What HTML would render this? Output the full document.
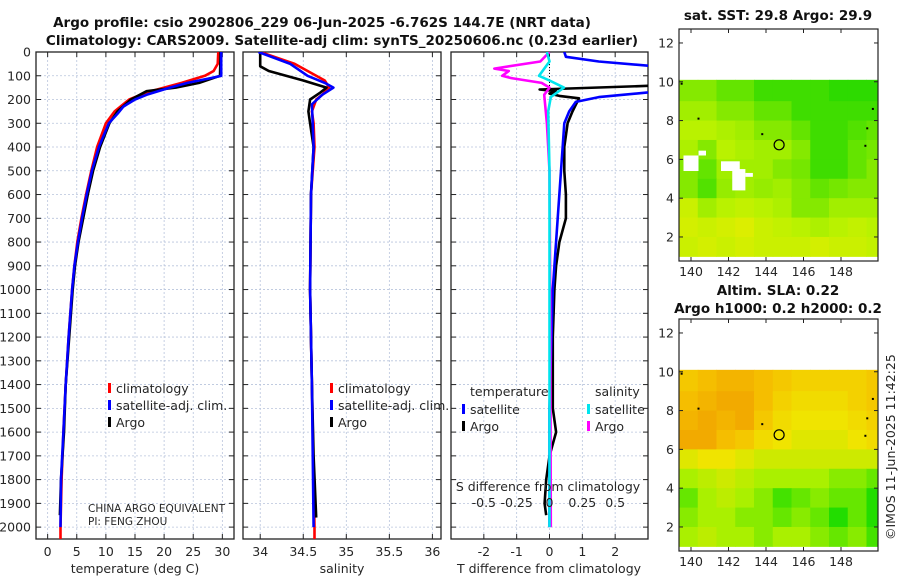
<!DOCTYPE html>
<html><head><meta charset="utf-8">
<style>
body{margin:0;background:#fff;}
svg{display:block;font-family:"DejaVu Sans","Liberation Sans",sans-serif;}
.t{font-weight:bold;font-size:13.5px;fill:#111;}
.k{font-size:12.5px;fill:#262626;}
.g{stroke:#b8c4dc;stroke-width:0.8;stroke-dasharray:2,2;}
</style></head>
<body>
<svg id="c" width="900" height="580" viewBox="0 0 900 580">
<text class="t" x="322" y="27" text-anchor="middle">Argo profile: csio 2902806_229 06-Jun-2025 -6.762S 144.7E (NRT data)</text>
<text class="t" x="342" y="45" text-anchor="middle">Climatology: CARS2009. Satellite-adj clim: synTS_20250606.nc (0.23d earlier)</text>
<text class="t" x="778" y="20" text-anchor="middle">sat. SST: 29.8 Argo: 29.9</text>
<text class="t" x="778" y="295" text-anchor="middle">Altim. SLA: 0.22</text>
<text class="t" x="778" y="313" text-anchor="middle">Argo h1000: 0.2 h2000: 0.2</text>
<text class="k" transform="translate(895,540) rotate(-90)">©IMOS 11-Jun-2025 11:42:25</text>
</svg>
<script>
// ---- profile data (depth m, value) ----
const tClimDepth=[0,50,80,100,130,150,170,200,250,300,400,500,600,700,800,900,1000,1200,1400,1600,1800,2000,2050];
const tClimVal=[29.3,29.2,28.5,27,23,20,17,14,11.5,10,8.5,7.5,6.6,5.8,5.1,4.6,4.2,3.6,3.1,2.7,2.4,2.2,2.2];
const tSatDepth=[0,100,110,130,150,180,200,230,260,300,400,500,600,700,800,900,1000,1200,1400,1600,1800,2000];
const tSatVal=[29.8,29.8,28,24,21,17,15,13,12,10.5,8.8,7.6,6.7,5.9,5.2,4.6,4.2,3.6,3.1,2.7,2.3,2.2];
const tArgoDepth=[0,100,130,150,165,200,250,300,400,500,600,700,800,900,1000,1200,1400,1600,1800,1950];
const tArgoVal=[29.7,29.6,26,22,17,14.3,12,10.6,9,7.8,6.9,6.1,5.3,4.7,4.3,3.7,3.1,2.8,2.3,2.1];
const sClimDepth=[0,50,80,120,150,180,200,250,300,400,600,1000,1400,2000,2050];
const sClimVal=[34.0,34.4,34.55,34.75,34.8,34.72,34.65,34.6,34.62,34.63,34.59,34.58,34.6,34.63,34.63];
const sSatDepth=[0,50,100,130,150,180,220,300,400,600,1000,1400,2000];
const sSatVal=[33.98,34.35,34.55,34.75,34.85,34.72,34.6,34.61,34.62,34.59,34.58,34.6,34.62];
const sArgoDepth=[0,60,80,100,120,150,170,200,250,300,400,600,1000,1400,1700,1960];
const sArgoVal=[34.0,34.0,34.1,34.3,34.5,34.77,34.7,34.58,34.56,34.58,34.62,34.59,34.58,34.6,34.62,34.65];
const dtSatDepth=[0,20,40,60,80,150,170,190,210,250,300,500,700,1000,1500,2000];
const dtSatVal=[0.45,0.5,1.5,3.2,3.5,3.5,3,1.5,0.8,0.6,0.45,0.35,0.25,0.1,0,0];
const dtArgoDepth=[0,140,158,165,175,185,195,250,300,400,500,600,700,800,900,1000,1200,1500,1600,1700,1800,1900,1950];
const dtArgoVal=[3.5,3.5,-0.3,0.2,0.0,0.3,0.9,0.7,0.55,0.45,0.45,0.5,0.5,0.3,0.2,0.15,0.1,0.1,0.2,0.0,-0.1,-0.15,-0.1];
const dsSatDepth=[0,40,100,120,150,190,250,500,1000,2000];
const dsSatVal=[-0.02,0,-0.08,0,0.11,0.01,-0.01,0,0,0];
const dsArgoDepth=[0,40,70,80,100,110,130,150,180,300,500,1000,2000];
const dsArgoVal=[0,-0.07,-0.42,-0.31,-0.36,-0.29,-0.06,0,-0.04,-0.02,0,0.005,0.01];
// ---- map data ----
const mapLons=[139.36,140.36,141.36,142.36,143.36,144.36,145.36,146.36,147.36,148.36,149.36];
const mapLats=[10.1,9,8,7,6,5,4,3,2];
const sstGrid=[
[29.6,29.6,29.5,29.5,29.4,29.4,29.4,29.4,29.35,29.35,29.35],
[29.7,29.7,29.6,29.6,29.5,29.5,29.4,29.4,29.4,29.4,29.4],
[29.8,29.8,29.75,29.7,29.6,29.6,29.5,29.4,29.4,29.45,29.5],
[29.75,29.6,29.8,29.75,29.7,29.7,29.6,29.4,29.4,29.5,29.55],
[29.6,29.5,29.7,29.7,29.7,29.6,29.55,29.4,29.4,29.5,29.6],
[29.6,29.45,29.65,29.7,29.65,29.7,29.6,29.5,29.55,29.6,29.6],
[29.9,29.7,29.8,29.85,29.8,29.75,29.6,29.6,29.7,29.7,29.7],
[29.95,29.9,29.95,30.0,29.9,29.85,29.8,29.75,29.8,29.85,29.8],
[29.9,29.95,29.9,29.95,29.9,29.9,29.9,29.95,29.9,29.9,29.85]];
const slaGrid=[
[0.26,0.27,0.28,0.28,0.27,0.26,0.25,0.25,0.25,0.25,0.26],
[0.27,0.28,0.29,0.29,0.27,0.25,0.24,0.24,0.24,0.25,0.26],
[0.28,0.29,0.28,0.29,0.26,0.24,0.23,0.23,0.23,0.24,0.25],
[0.29,0.29,0.27,0.26,0.24,0.23,0.22,0.22,0.22,0.23,0.24],
[0.22,0.23,0.23,0.22,0.21,0.21,0.21,0.21,0.21,0.21,0.21],
[0.19,0.2,0.21,0.2,0.19,0.19,0.19,0.19,0.18,0.18,0.17],
[0.17,0.19,0.2,0.19,0.18,0.16,0.17,0.18,0.17,0.17,0.15],
[0.18,0.19,0.19,0.18,0.18,0.17,0.18,0.17,0.15,0.17,0.15],
[0.19,0.2,0.19,0.19,0.18,0.19,0.19,0.18,0.17,0.18,0.16]];
const cloudBoxes=[[139.6,140.4,5.4,6.2],[140.4,140.8,6.2,6.45],[141.6,142.6,5.4,5.9],[142.2,142.9,4.4,5.5],[142.9,143.3,5.1,5.3]];
const floatLon=144.7, floatLat=6.75;
const nearLons=[143.8,140.4,149.4,149.3,149.7,139.5];
const nearLats=[7.3,8.1,7.6,6.7,8.6,9.9];
const depthTicks=[0,100,200,300,400,500,600,700,800,900,1000,1100,1200,1300,1400,1500,1600,1700,1800,1900,2000];
const tTicks=[0,5,10,15,20,25,30];
const sTicks=[34,34.5,35,35.5,36];
const sTickLabels=["34","34.5","35","35.5","36"];
const dTTicks=[-2,-1,0,1,2];
const dSTicks=[-0.5,-0.25,0,0.25,0.5];
const dSTickLabels=["-0.5","-0.25","0","0.25","0.5"];
const latTicks=[2,4,6,8,10,12];
const lonTicks=[140,142,144,146,148];

const svg=document.getElementById('c');
const NS='http://www.w3.org/2000/svg';
function mk(tag,at,parent){const e=document.createElementNS(NS,tag);for(const k in at)e.setAttribute(k,at[k]);(parent||svg).appendChild(e);return e;}
const Y0=52,Y1=539;
const yD=d=>Y0+(d/2050)*(Y1-Y0);
const panels=[{x0:36,x1:234,v0:-2,v1:32},{x0:243,x1:441,v0:33.8,v1:36.1},{x0:451,x1:648,v0:-3,v1:3}];
function sx(p,v){return p.x0+(v-p.v0)/(p.v1-p.v0)*(p.x1-p.x0);}
function clipFor(id,x0,y0,x1,y1){const d=mk('clipPath',{id:id});mk('rect',{x:x0,y:y0,width:x1-x0,height:y1-y0},d);}
panels.forEach((p,i)=>clipFor('cp'+i,p.x0,Y0,p.x1,Y1));

function frame(p,name,xt){
  const g=mk('g',{});
  
  
  depthTicks.forEach(d=>{mk('line',{x1:p.x0,x2:p.x1,y1:yD(d),y2:yD(d),class:'g'},g);
    mk('line',{x1:p.x0,x2:p.x0+5,y1:yD(d),y2:yD(d),stroke:'#222'},g);
    mk('line',{x1:p.x1-5,x2:p.x1,y1:yD(d),y2:yD(d),stroke:'#222'},g);});
  xt.forEach(v=>{const x=sx(p,v);mk('line',{x1:x,x2:x,y1:Y0,y2:Y1,class:'g'},g);
    mk('line',{x1:x,x2:x,y1:Y1-5,y2:Y1,stroke:'#222'},g);mk('line',{x1:x,x2:x,y1:Y0,y2:Y0+5,stroke:'#222'},g);});
  mk('rect',{x:p.x0,y:Y0,width:p.x1-p.x0,height:Y1-Y0,fill:'none',stroke:'#222','stroke-width':1.3},g);
  return g;
}
function line(p,ci,ds,vs,color,w,name,conv){
  const pts=ds.map((d,i)=>sx(p,conv?conv(vs[i]):vs[i]).toFixed(1)+','+yD(d).toFixed(1)).join(' ');
  const e=mk('polyline',{points:pts,fill:'none',stroke:color,'stroke-width':w,'stroke-linejoin':'round','clip-path':'url(#cp'+ci+')'});
  
  
}
function text(x,y,s,anchor,name,cls,extra){const e=mk('text',Object.assign({x:x,y:y,'text-anchor':anchor||'start',class:cls||'k'},extra||{}));e.textContent=s;
  
  return e;}

// panel 1
const p1=panels[0];frame(p1,'temperature-panel',tTicks);
depthTicks.forEach(d=>text(31,yD(d)+4.5,String(d),'end','depth-tick-label'));
tTicks.forEach(v=>text(sx(p1,v),556,String(v),'middle','temp-tick-label'));
text(135,573,'temperature (deg C)','middle','temp-axis-title');
line(p1,0,tClimDepth,tClimVal,'#f00',2.6,'temp-climatology-line');
line(p1,0,tArgoDepth,tArgoVal,'#000',2.6,'temp-argo-line');
line(p1,0,tSatDepth,tSatVal,'#0000ff',2.6,'temp-satellite-line');
function legend(x,y,items,name){items.forEach((it,i)=>{const yy=y+i*17;
  const r=mk('rect',{x:x,y:yy-9,width:3,height:10,fill:it[0]});
  
  
  text(x+8,yy+1,it[1],'start',name+'-label');});}
legend(108,392,[['#f00','climatology'],['#0000ff','satellite-adj. clim.'],['#000','Argo']],'temp-legend');
text(88,512,'CHINA ARGO EQUIVALENT','start','pi-institution',null,{style:'font-size:10.5px'});
text(88,525,'PI: FENG ZHOU','start','pi-name',null,{style:'font-size:10.5px'});

// panel 2
const p2=panels[1];frame(p2,'salinity-panel',sTicks);
sTicks.forEach((v,i)=>text(sx(p2,v),556,sTickLabels[i],'middle','salinity-tick-label'));
text(342,573,'salinity','middle','salinity-axis-title');
line(p2,1,sClimDepth,sClimVal,'#f00',2.6,'salinity-climatology-line');
line(p2,1,sArgoDepth,sArgoVal,'#000',2.6,'salinity-argo-line');
line(p2,1,sSatDepth,sSatVal,'#0000ff',2.6,'salinity-satellite-line');
legend(330,392,[['#f00','climatology'],['#0000ff','satellite-adj. clim.'],['#000','Argo']],'salinity-legend');

// panel 3
const p3=panels[2];frame(p3,'difference-panel',dTTicks);
mk('line',{x1:sx(p3,0),x2:sx(p3,0),y1:Y0,y2:yD(150),stroke:'#000','stroke-width':1,'stroke-dasharray':'1,2'});
const sConv=v=>v*4;
line(p3,2,dtArgoDepth,dtArgoVal,'#000',2.6,'temp-diff-argo-line');
line(p3,2,dtSatDepth,dtSatVal,'#0000ff',2.6,'temp-diff-satellite-line');
line(p3,2,dsArgoDepth,dsArgoVal,'#ff00ff',2.6,'salinity-diff-argo-line',sConv);
line(p3,2,dsSatDepth,dsSatVal,'#00e5ee',2.6,'salinity-diff-satellite-line',sConv);
dTTicks.forEach(v=>text(sx(p3,v),556,String(v),'middle','temp-diff-tick-label'));
text(549,573,'T difference from climatology','middle','temp-diff-axis-title');
dSTicks.forEach((v,i)=>text(sx(p3,v*4),507,dSTickLabels[i],'middle','salinity-diff-tick-label'));
text(548,491,'S difference from climatology','middle','salinity-diff-axis-title');
text(470,396,'temperature','start','temp-diff-legend-title');
text(595,396,'salinity','start','salinity-diff-legend-title');
legend(462,413,[['#0000ff','satellite'],['#000','Argo']],'temp-diff-legend');
legend(587,413,[['#00e5ee','satellite'],['#ff00ff','Argo']],'salinity-diff-legend');

// maps
function lerpColor(stops,v){if(v<=stops[0][0])return stops[0][1];
  for(let i=1;i<stops.length;i++){if(v<=stops[i][0]){const a=stops[i-1],b=stops[i],t=(v-a[0])/(b[0]-a[0]);
    return [0,1,2].map(k=>Math.round(a[1][k]+(b[1][k]-a[1][k])*t));}}
  return stops[stops.length-1][1];}
function toRgb(c){return 'rgb('+c.join(',')+')';}
const sstStops=[[29.35,[45,218,0]],[29.5,[100,228,0]],[29.65,[150,236,0]],[29.8,[185,242,0]],[30.0,[220,238,0]],[30.3,[240,180,0]]];
const slaStops=[[0.15,[34,221,0]],[0.19,[170,240,0]],[0.23,[240,228,0]],[0.27,[245,190,0]],[0.30,[240,160,0]]];
function drawMap(mY0,grid,stops,name,clouds){
  const m={x0:679,x1:878,y0:mY0,y1:mY0+232};
  const mx=lon=>m.x0+(lon-139.36)*18.75;
  const my=lat=>m.y0+(12.72-lat)*19.4;
  const cid='mc'+mY0;clipFor(cid,m.x0,m.y0,m.x1,m.y1);
  const g=mk('g',{'clip-path':'url(#'+cid+')'});
  
  
  grid.forEach((row,r)=>{const top=mapLats[r],bot=(r+1<mapLats.length)?mapLats[r+1]:1.0;
    row.forEach((v,c)=>{const l=mapLons[c],rr=l+1;
      const cell=mk('rect',{x:mx(l),y:my(top),width:mx(rr)-mx(l)+0.5,height:my(bot)-my(top)+0.5,fill:toRgb(lerpColor(stops,v))},g);
      
      });});
  if(clouds)clouds.forEach(b=>{const e=mk('rect',{x:mx(b[0]),y:my(b[3]),width:mx(b[1])-mx(b[0]),height:my(b[2])-my(b[3]),fill:'#fff'},g);
    
    });
  nearLons.forEach((lo,i)=>{const d=mk('rect',{x:mx(lo)-1,y:my(nearLats[i])-1,width:2,height:2,fill:'#000'},g);
    
    });
  const c=mk('circle',{cx:mx(floatLon),cy:my(floatLat),r:5,fill:'none',stroke:'#000','stroke-width':1.2});
  
  
  latTicks.forEach(v=>{mk('line',{x1:m.x0,x2:m.x0+4,y1:my(v),y2:my(v),stroke:'#222'});mk('line',{x1:m.x1-4,x2:m.x1,y1:my(v),y2:my(v),stroke:'#222'});
    text(m.x0-5,my(v)+4.5,String(v),'end','lat-tick-label');});
  lonTicks.forEach(v=>{mk('line',{x1:mx(v),x2:mx(v),y1:m.y1-4,y2:m.y1,stroke:'#222'});mk('line',{x1:mx(v),x2:mx(v),y1:m.y0,y2:m.y0+4,stroke:'#222'});
    text(mx(v),m.y1+15,String(v),'middle','lon-tick-label');});
  const f=mk('rect',{x:m.x0,y:m.y0,width:m.x1-m.x0,height:m.y1-m.y0,fill:'none',stroke:'#222','stroke-width':1.2});
  
  
}
drawMap(29,sstGrid,sstStops,'sst-map',cloudBoxes);
drawMap(319,slaGrid,slaStops,'sla-map',null);
</script>
</body></html>
